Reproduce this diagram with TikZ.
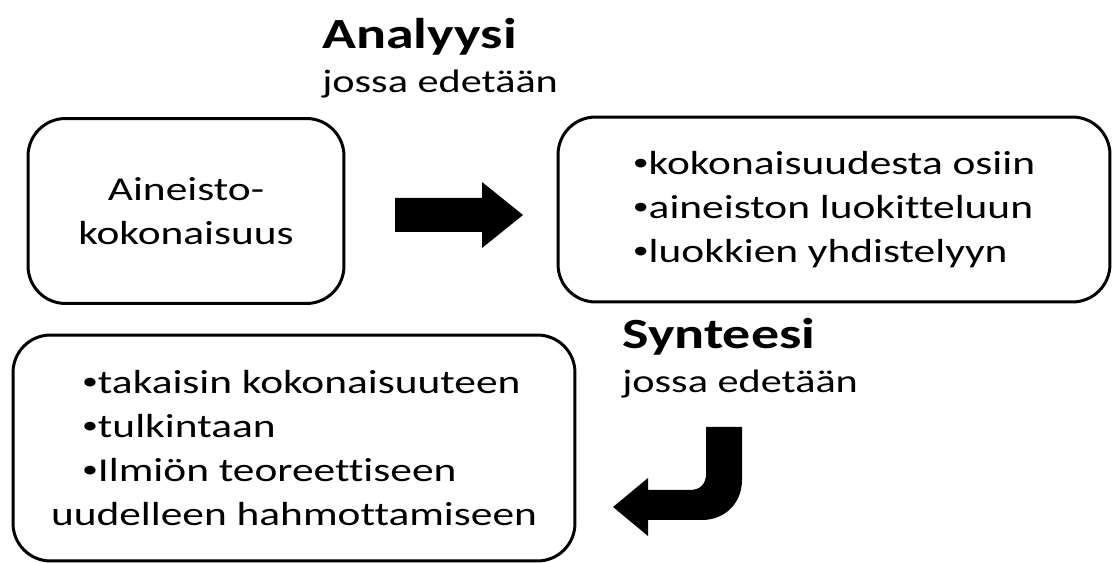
\documentclass[tikz,border=0pt]{standalone}
\usepackage{fontspec}
\setmainfont{Carlito}[FakeStretch=1.3, Ligatures=NoCommon]
\usetikzlibrary{positioning}

\newcommand\bul{\raisebox{0.12em}{\fontsize{14}{14}\selectfont•}}

\tikzset{
  box/.style={draw, line width=1.7pt, rounded corners=0.75cm, inner sep=0pt,
    font=\fontsize{19}{25}\selectfont},
  heading/.style={anchor=base west, inner sep=0pt, font=\fontsize{24.5}{28}\selectfont\bfseries},
  subhead/.style={anchor=base west, inner sep=0pt, font=\fontsize{18.5}{25}\selectfont},
  blockarrow/.style={fill=black}
}

\begin{document}
\begin{tikzpicture}[x=0.02cm, y=-0.02cm]
  \useasboundingbox (0,0) rectangle (1112,563);

  % headings
  \node [heading] (analyysi) at (322,49) {Analyysi};
  \node [subhead] (edet1) at (322,93) {jossa edetään};
  \node [heading] (synteesi) at (622,349) {Synteesi};
  \node [subhead] (edet2) at (622,393) {jossa edetään};

  % boxes
  \node [box, minimum width=6.32cm, minimum height=3.7cm, align=center]
    (aineisto) at (186,211) {Aineisto-\\kokonaisuus};
  \node [box, minimum width=11.04cm, minimum height=3.7cm, align=left]
    (osiin) at (834,209.5) {\bul kokonaisuudesta osiin\\\bul aineiston luokitteluun\\\bul luokkien yhdistelyyn};
  \node [box, minimum width=11.24cm, minimum height=4.52cm, align=left]
    (takaisin) at (294,448) {\hspace*{0.62cm}\bul takaisin kokonaisuuteen\\\hspace*{0.62cm}\bul tulkintaan\\\hspace*{0.62cm}\bul Ilmiön teoreettiseen\\uudelleen hahmottamiseen};

  % block arrows
  \fill [blockarrow] (395,198) -- (482,198) -- (482,182) -- (523,215)
    -- (482,248) -- (482,232) -- (395,232) -- cycle;
  \fill [blockarrow] (706,427) -- (742,427) -- (742,480)
    .. controls (742,503) and (725,520) .. (702,520) -- (648,520)
    -- (648,536) -- (613,507) -- (648,478) -- (648,490) -- (690,490)
    .. controls (700,490) and (706,484) .. (706,474) -- cycle;
\end{tikzpicture}
\end{document}
